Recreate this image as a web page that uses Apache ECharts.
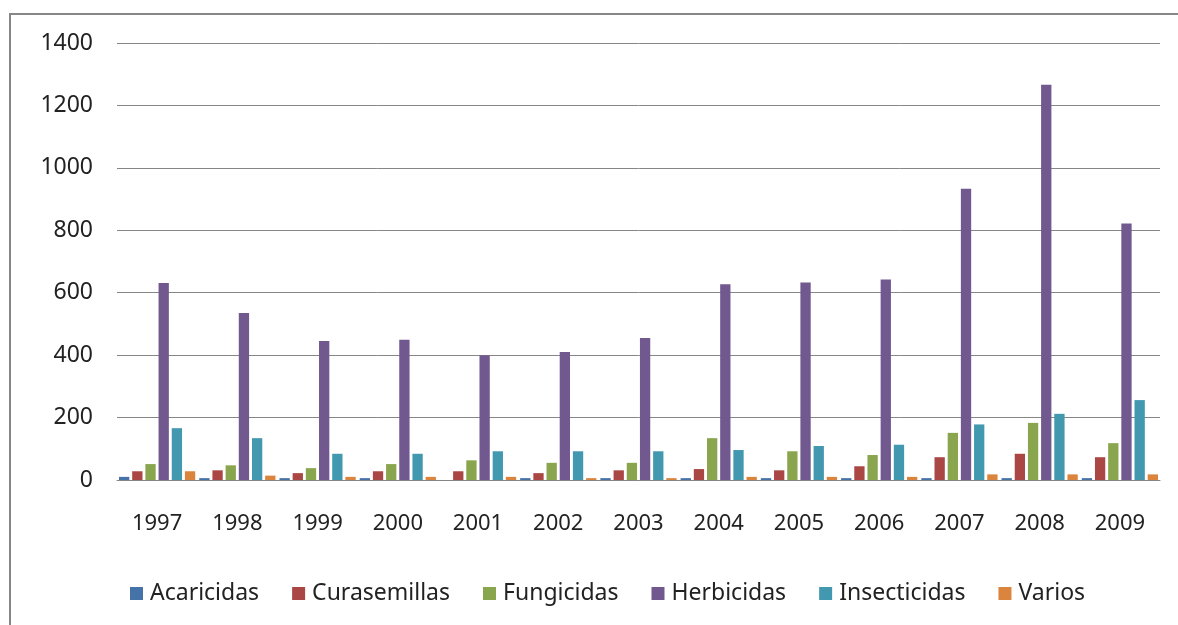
<!DOCTYPE html>
<html>
<head>
<meta charset="utf-8">
<script src="https://cdn.jsdelivr.net/npm/echarts@6/dist/echarts.min.js"></script>
<style>
  html, body { margin: 0; padding: 0; background: #fff; }
  #main { width: 1178px; height: 625px; }
</style>
</head>
<body>
<div id="main"></div>
<script>
// años
const years = ['1997', '1998', '1999', '2000', '2001', '2002', '2003', '2004', '2005', '2006', '2007', '2008', '2009']
// valores
const acaricidas = [10, 6, 6, 6, 0, 6, 6, 6, 6, 6, 6, 6, 6]
const curasemillas = [28, 31, 22, 28, 28, 22, 31, 35, 31, 44, 73, 84, 73]
const fungicidas = [51, 47, 38, 51, 63, 55, 55, 134, 92, 80, 151, 183, 118]
const herbicidas = [631, 535, 445, 449, 400, 410, 455, 627, 633, 642, 933, 1266, 822]
const insecticidas = [166, 134, 84, 84, 92, 92, 92, 96, 109, 113, 178, 212, 256]
const varios = [28, 14, 10, 10, 10, 6, 6, 10, 10, 10, 18, 18, 18]

const names = ['Acaricidas', 'Curasemillas', 'Fungicidas', 'Herbicidas', 'Insecticidas', 'Varios']
const colors = ['#4572A7', '#AA4643', '#89A54E', '#71588F', '#4198AF', '#DB843D']
const data = [acaricidas, curasemillas, fungicidas, herbicidas, insecticidas, varios]

const font = 'Noto Sans'
let myChart = echarts.init(document.getElementById('main'))
let option = {
  animation: false,
  color: colors,
  graphic: [
    {
      type: 'rect',
      shape: { x: 10, y: 14, width: 1200, height: 700 },
      style: { fill: 'none', stroke: '#868686', lineWidth: 2 },
    },
  ],
  grid: { left: 117, right: 18, top: 43, bottom: 145 },
  legend: {
    data: names,
    left: 125,
    top: 577,
    itemWidth: 13,
    itemHeight: 13,
    itemGap: 33,
    icon: 'rect',
    textStyle: { fontFamily: font, fontSize: 23, color: '#222', padding: [0, 0, 0, 2] },
  },
  xAxis: {
    type: 'category',
    data: years,
    axisLine: { lineStyle: { color: '#868686', width: 1 } },
    axisTick: { show: false },
    axisLabel: { fontFamily: font, fontSize: 22, color: '#222', margin: 33 },
  },
  yAxis: {
    type: 'value',
    min: 0,
    max: 1400,
    interval: 200,
    axisLine: { show: false },
    axisTick: { show: false },
    axisLabel: { fontFamily: font, fontSize: 23, color: '#222', margin: 24, formatter: (v) => String(v) },
    splitLine: { lineStyle: { color: '#868686', width: 1 } },
  },
  series: names.map((n, i) => ({
    name: n,
    type: 'bar',
    data: data[i],
    barGap: '28%',
    barCategoryGap: '5%',
  })),
}
myChart.setOption(option)
</script>
</body>
</html>
